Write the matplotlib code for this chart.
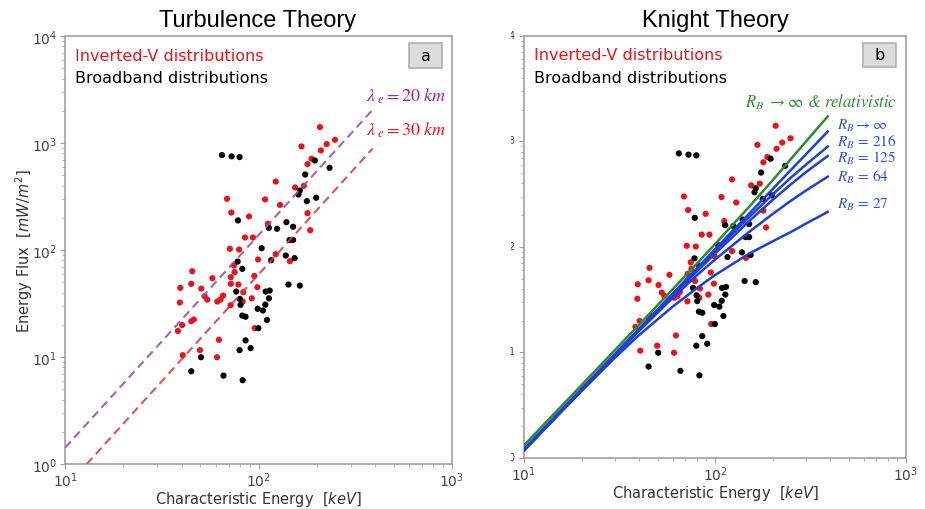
import matplotlib
matplotlib.use("Agg")
import matplotlib.pyplot as plt
from matplotlib.patches import Rectangle

# ---------------- data ----------------
# Inverted-V distributions (red)
inv_E = [207.6, 166.7, 224.9, 248.3, 209.9, 187.9, 179.0, 122.7, 171.4, 154.5,
         68.7, 108.1, 129.1, 72.3, 89.3, 179.0, 111.7, 85.1, 93.5, 184.9,
         71.1, 79.3, 99.4, 122.7, 145.2, 74.6, 75.2, 45.4, 57.7, 71.9,
         95.1, 39.4, 44.9, 50.6, 71.9, 78.6, 98.6, 52.6, 54.3, 65.5,
         63.6, 61.2, 83.4, 92.2, 39.2, 71.7, 46.3, 44.9, 40.3, 38.3,
         95.5, 62.4, 40.6, 49.8, 61.0, 82.8]
inv_F = [1409, 929, 977, 1072, 853, 713, 635, 437, 398, 384,
         301, 297, 264, 224, 206, 221, 176, 131, 131, 153,
         102.6, 101, 81.5, 91.4, 78.7, 71.6, 62.1, 63.4, 54.5, 55.7,
         57.3, 44.3, 48.3, 43.6, 48.3, 47.6, 44.9, 37.0, 34.4, 37.5,
         34.4, 33.0, 40.4, 35.4, 32.3, 30.5, 22.4, 21.6, 19.9, 17.5,
         18.6, 14.5, 10.4, 11.6, 9.95, 33.0]

# Broadband distributions (black)
bb_E = [64.7, 72.6, 79.8, 195.4, 232.8, 174.2, 163.4, 160.9, 177.7, 198.5,
        78.3, 113.0, 124.7, 139.3, 150.9, 144.5, 150.9, 103.8, 78.0, 82.4,
        116.2, 138.3, 153.5, 142.8, 163.4, 76.7, 80.1, 80.7, 108.9, 114.2,
        113.2, 99.0, 105.4, 108.4, 82.4, 85.7, 110.6, 99.8, 85.7, 79.8,
        91.0, 50.4, 44.9, 65.9, 82.8]
bb_F = [771, 750, 739, 687, 587, 508, 360, 330, 286, 308,
        189, 161, 158, 182, 165, 124, 124, 104, 78.0, 66.7,
        80.4, 88.9, 84.0, 47.6, 46.5, 40.9, 34.9, 30.7, 40.9, 41.8,
        35.4, 28.2, 27.2, 30.9, 24.4, 23.8, 22.2, 18.6, 14.3, 11.6,
        12.1, 9.95, 7.36, 6.70, 6.07]

# Turbulence theory lines (endpoints)
lam20_E = [10, 389]
lam20_F = [1.42, 2050]
lam30_E = [12.95, 389]
lam30_F = [1.0, 890]

# Knight theory curves
knight_E = [10, 15, 20, 30, 40, 60, 80, 100, 150, 200, 250, 300, 389]
rel_F = [1.32, 2.85, 4.9, 10.6, 18.3, 39.8, 68.9, 106.5, 237.6, 427, 685, 1003, 1730]
rinf_F = [1.22, 2.63, 4.53, 9.74, 16.8, 36.2, 62.3, 95.1, 204.8, 353, 539, 760, 1243]
r216_F = [1.20, 2.58, 4.44, 9.55, 16.5, 35.5, 60.4, 91.3, 190, 314, 455, 606, 895]
r125_F = [1.19, 2.57, 4.42, 9.5, 16.2, 34.6, 58.3, 86.5, 174, 279, 394, 514, 728]
r64_F = [1.19, 2.55, 4.39, 9.35, 16.0, 32.9, 53.6, 76.1, 138, 205, 275, 344, 464]
r27_F = [1.17, 2.52, 4.30, 8.96, 14.6, 27.2, 40.5, 54.2, 86, 113, 139, 167, 215]

xticks = [10, 100, 1000]
yticks = [1, 10, 100, 1000, 10000]

# ---------------- figure ----------------
plt.rcParams['mathtext.fontset'] = 'dejavusans'
fig = plt.figure(figsize=(9.25, 5.1), dpi=100)

ax1 = fig.add_axes([0.0703, 0.0882, 0.4184, 0.8392])
ax2 = fig.add_axes([0.5665, 0.100, 0.4130, 0.8275])

RED = '#e8141c'
BLUE_LINE = '#1f3fd6'
BLUE_TXT = '#2a50f0'
GREEN = '#2e8b2e'

for ax in (ax1, ax2):
    ax.set_xscale('log')
    ax.set_yscale('log')
    ax.set_xlim(10, 1000)
    ax.set_ylim(1, 10000)
    ax.set_xticks(xticks)
    ax.set_yticks(yticks)
    for s in ax.spines.values():
        s.set_color('#a0a0a0')
        s.set_linewidth(1.2)
    ax.tick_params(which='both', colors='#a0a0a0', labelcolor='#444444',
                   labelsize=10)
    ax.tick_params(axis='x', which='major', pad=1)
    ax.tick_params(axis='y', which='major', pad=2)
    ax.scatter(inv_E, inv_F, s=20, color=RED, edgecolors='none', zorder=3)
    ax.scatter(bb_E, bb_F, s=20, color='black', edgecolors='none', zorder=3)
    ax.set_xlabel('Characteristic Energy  [$\\mathit{keV}$]', fontsize=10.5,
                  color='#333333', labelpad=0)
    ax.text(0.025, 0.955, 'Inverted-V distributions', transform=ax.transAxes,
            color=RED, fontsize=11.5, va='center', ha='left')
    ax.text(0.025, 0.902, 'Broadband distributions', transform=ax.transAxes,
            color='black', fontsize=11.5, va='center', ha='left')

ax1.set_ylabel('Energy Flux  [$\\mathit{mW/m^2}$]', fontsize=10.5,
               color='#333333', labelpad=-2)

# Turbulence lines
ax1.plot(lam20_E, lam20_F, ls=(0, (4, 2.5)), color='#9b4fb0', lw=1.5,
         alpha=0.9, zorder=4)
ax1.plot(lam30_E, lam30_F, ls=(0, (4, 2.5)), color='#d84040', lw=1.5,
         alpha=0.9, zorder=4)
ax1.text(0.985, 0.862, '$\\lambda_{\\ e} = 20\\ km$', transform=ax1.transAxes,
         color='#a020a0', fontsize=13, ha='right', va='center',
         math_fontfamily='stix')
ax1.text(0.985, 0.782, '$\\lambda_{\\ e} = 30\\ km$', transform=ax1.transAxes,
         color='#e8141c', fontsize=13, ha='right', va='center',
         math_fontfamily='stix')

# Knight curves
for F in (rinf_F, r216_F, r125_F, r64_F, r27_F):
    ax2.plot(knight_E, F, color=BLUE_LINE, lw=1.8, zorder=4)
ax2.plot(knight_E, rel_F, color=GREEN, lw=1.8, zorder=4)

ax2.text(0.975, 0.845, '$R_B\\ \\rightarrow \\infty$ & $relativistic$',
         transform=ax2.transAxes, color=GREEN, fontsize=12, ha='right',
         va='center', family='STIXGeneral', style='italic',
         math_fontfamily='stix')
rb_labels = ['$R_B \\rightarrow \\infty$', '$R_B\\, =\\, 216$',
             '$R_B\\, =\\, 125$', '$R_B\\, =\\, 64$', '$R_B\\, =\\, 27$']
rb_y = [0.789, 0.751, 0.713, 0.667, 0.603]
for lab, yy in zip(rb_labels, rb_y):
    ax2.text(0.818, yy, lab, transform=ax2.transAxes, color=BLUE_TXT,
             fontsize=11, ha='left', va='center', math_fontfamily='stix')

# panel letters
for ax, letter in ((ax1, 'a'), (ax2, 'b')):
    ax.add_patch(Rectangle((0.888, 0.926), 0.087, 0.058,
                           transform=ax.transAxes, facecolor='#dcdcdc',
                           edgecolor='#b0b0b0', lw=1.2, zorder=5))
    ax.text(0.9315, 0.955, letter, transform=ax.transAxes, fontsize=11.5,
            ha='center', va='center', color='black', zorder=6)

fig.text(258 / 925, 1 - 27 / 510, 'Turbulence Theory', ha='center',
         va='baseline', fontsize=17, family='Liberation Sans')
fig.text(715 / 925, 1 - 27 / 510, 'Knight Theory', ha='center',
         va='baseline', fontsize=17, family='Liberation Sans')

# the right panel's own y tick labels were cut off in the original
fig.patches.append(Rectangle((462 / 925, 0), (510.5 - 462) / 925, 1,
                             transform=fig.transFigure, facecolor='white',
                             edgecolor='none', zorder=10))

fig.savefig('out.png', dpi=100)
